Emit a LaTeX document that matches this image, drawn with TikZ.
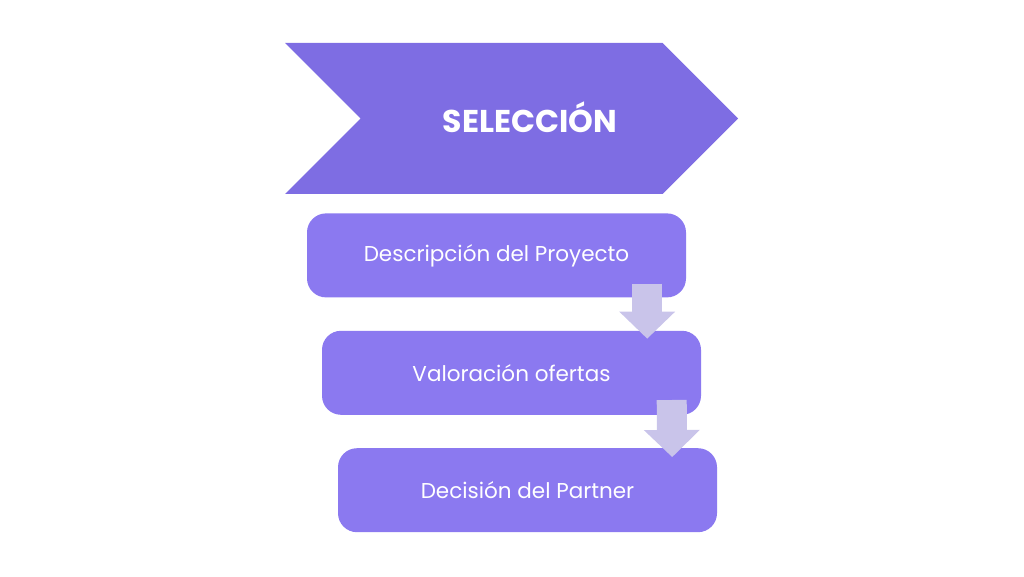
\documentclass[tikz,border=0pt]{standalone}
\usepackage{fontspec}
\setmainfont{Poppins}
\usetikzlibrary{positioning,shapes.symbols,arrows.meta}
\definecolor{chevronpurple}{HTML}{7E6DE3}
\definecolor{boxpurple}{HTML}{8B79F0}
\definecolor{arrowlilac}{HTML}{C9C4EA}

\begin{document}
\begin{tikzpicture}[node distance=33pt,
    stepbox/.style={rectangle, rounded corners=19pt, fill=boxpurple, text=white,
        minimum width=379pt, minimum height=84pt, inner sep=0pt, font=\fontsize{21.5}{26}\selectfont},
    flowarrow/.style={arrowlilac, line width=30pt,
        -{Triangle[width=56pt, length=27pt, line width=0pt]}}]
    \useasboundingbox (0,0) rectangle (1024pt,576pt);

    % Define nodes
    \node [signal, signal to=east, signal from=west, signal pointer angle=90,
        fill=chevronpurple, minimum width=453pt, minimum height=151pt, inner sep=0pt,
        label={[text=white, font=\bfseries\fontsize{31.5}{36}\selectfont, xshift=18.5pt, yshift=1pt]center:SELECCIÓN}]
        (seleccion) at (511.5pt,457.5pt) {};
    \node [stepbox, below=19pt of seleccion, xshift=-15pt] (descripcion) {Descripción del Proyecto};
    \node [stepbox, below=of descripcion, xshift=15pt] (valoracion) {Valoración ofertas};
    \node [stepbox, below=of valoracion, xshift=16pt] (decision) {Decisión del Partner};

    % Draw edges
    \draw [flowarrow] ([xshift=-39pt, yshift=14pt]descripcion.south east) -- ([xshift=-54pt, yshift=-8pt]valoracion.north east);
    \draw [flowarrow] ([xshift=-29.5pt, yshift=15pt]valoracion.south east) -- ([xshift=-45pt, yshift=-9pt]decision.north east);
\end{tikzpicture}
\end{document}
